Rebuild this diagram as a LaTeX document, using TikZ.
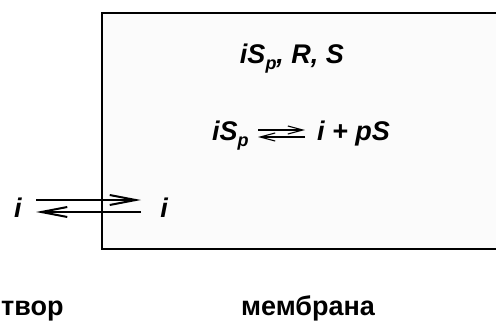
\documentclass[tikz,border=0pt]{standalone}
\usepackage{fontspec}
\setmainfont{Liberation Sans}
\usepackage{tikz}
\usetikzlibrary{arrows.meta,positioning}
\definecolor{membg}{HTML}{FBFBFB}
\newcommand{\lowp}{\raisebox{-0.45ex}{\fontsize{18}{18}\selectfont p}}
\tikzset{
  sp/.style={font=\fontsize{27}{30}\selectfont\bfseries\itshape,inner sep=0pt},
  lab/.style={font=\fontsize{27}{30}\selectfont\bfseries,inner sep=0pt},
  mem/.style={draw=black,line width=2pt,fill=membg},
  fw/.style={-{Straight Barb[length=26pt,width=10pt]},line width=2pt},
  thn/.style={-{Straight Barb[length=15pt,width=8pt]},line width=1.1pt}
}
\begin{document}
\begin{tikzpicture}[x=1pt,y=-1pt]
\useasboundingbox (0,0) rectangle (496,322);
\clip (0,0) rectangle (496,322);
\draw[mem] (102,13) rectangle (510,249);
% inside the membrane
\node[sp,anchor=base] (mix) at (292,63) {iS\lowp, R, S};
\node[sp,anchor=base west] (cplx) at (212,140) {iS\lowp};
\node[sp,anchor=base west] (prod) at (317,140) {i + pS};
\coordinate (ca) at (258,130);
\coordinate (cb) at (305,130);
\coordinate (cc) at (258,137);
\coordinate (cd) at (305,137);
\draw[thn] (ca)--(cb);
\draw[thn] (cd)--(cc);
% exchange across the border
\node[sp,anchor=base] (iout) at (18,217) {i};
\node[sp,anchor=base] (iin) at (164,217) {i};
\coordinate (la) at (36,200);
\coordinate (lb) at (141,200);
\coordinate (lc) at (36,212);
\coordinate (ld) at (141,212);
\draw[fw] (la)--(lb);
\draw[fw] (ld)--(lc);
% phases
\node[lab,anchor=base west] (sol) at (1,315) {твор};
\node[lab,anchor=base] (memb) at (308,315) {мембрана};
\end{tikzpicture}
\end{document}
